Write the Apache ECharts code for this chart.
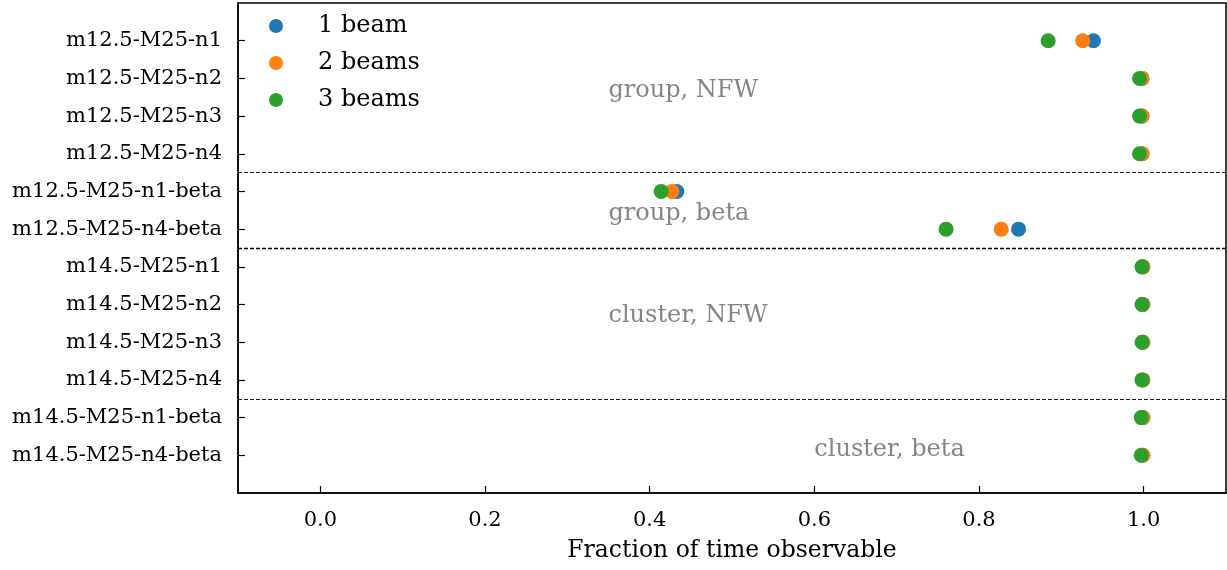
<!DOCTYPE html>
<html>
<head>
<meta charset="utf-8">
<script src="https://cdn.jsdelivr.net/npm/echarts@6/dist/echarts.min.js"></script>
<style>
  html, body { margin: 0; padding: 0; background: #fff; }
  #chart { width: 1227px; height: 570px; }
</style>
</head>
<body>
<div id="chart"></div>
<script>
// Model runs, listed top to bottom
const models = [
  'm12.5-M25-n1', 'm12.5-M25-n2', 'm12.5-M25-n3', 'm12.5-M25-n4',
  'm12.5-M25-n1-beta', 'm12.5-M25-n4-beta',
  'm14.5-M25-n1', 'm14.5-M25-n2', 'm14.5-M25-n3', 'm14.5-M25-n4',
  'm14.5-M25-n1-beta', 'm14.5-M25-n4-beta'
];

// Fraction of time observable per model
const oneBeam    = [0.939, 0.998, 0.998, 0.998, 0.433, 0.848, 0.999, 0.999, 0.999, 0.999, 0.999, 0.999];
const twoBeams   = [0.926, 0.998, 0.998, 0.998, 0.427, 0.827, 0.999, 0.999, 0.999, 0.999, 0.999, 0.999];
const threeBeams = [0.884, 0.995, 0.995, 0.995, 0.414, 0.760, 0.998, 0.998, 0.998, 0.998, 0.997, 0.997];

const seriesNames = ['1 beam', '2 beams', '3 beams'];
const xTicks = [0.0, 0.2, 0.4, 0.6, 0.8, 1.0];

// Group separators (between model indices)
const separators = [
  { y: 3.5, width: 0.9 },
  { y: 5.5, width: 1.4 },
  { y: 9.5, width: 0.9 }
];

// Group annotations: [x, y, text]
const annotations = [
  [0.35, 1.33, 'group, NFW'],
  [0.35, 4.6, 'group, beta'],
  [0.35, 7.3, 'cluster, NFW'],
  [0.60, 10.85, 'cluster, beta']
];

const colors = ['#1f77b4', '#ff7f0e', '#2ca02c'];
const serif = 'DejaVu Serif';
const tickFs = 21;
const textFs = 24;

const toPoints = vals => vals.map((v, i) => [v, i]);

const chart = echarts.init(document.getElementById('chart'), null, { renderer: 'canvas' });

const scatterSeries = [oneBeam, twoBeams, threeBeams].map((vals, k) => ({
  name: seriesNames[k],
  type: 'scatter',
  data: toPoints(vals),
  symbol: 'circle',
  symbolSize: 15,
  itemStyle: { color: colors[k], opacity: 1 },
  z: 3 + k,
  emphasis: { disabled: true }
}));

// separators drawn on the first series
scatterSeries[0].markLine = {
  silent: true,
  symbol: 'none',
  label: { show: false },
  data: separators.map(s => ({
    yAxis: s.y,
    lineStyle: { color: '#000', type: [4, 2], width: s.width }
  }))
};

const annotationSeries = {
  type: 'scatter',
  silent: true,
  symbolSize: 0,
  data: annotations.map(a => ({ value: [a[0], a[1]], name: a[2] })),
  label: {
    show: true,
    position: 'right',
    distance: 0,
    formatter: p => p.name,
    fontFamily: serif,
    fontSize: textFs,
    color: '#666666'
  },
  z: 2
};

chart.setOption({
  animation: false,
  color: colors,
  grid: {
    left: 238, right: 1, top: 3, bottom: 77,
    show: true, borderColor: '#000', borderWidth: 1.5, backgroundColor: 'transparent'
  },
  legend: {
    data: seriesNames,
    left: 264, top: 8,
    orient: 'vertical',
    icon: 'circle',
    itemWidth: 14, itemHeight: 14,
    itemGap: 11,
    textStyle: {
      fontFamily: serif, fontSize: textFs, color: '#000',
      lineHeight: 26, padding: [0, 0, 0, 30]
    }
  },
  xAxis: {
    type: 'value',
    min: -0.1, max: 1.1,
    name: 'Fraction of time observable',
    nameLocation: 'middle',
    nameGap: 46,
    nameTextStyle: { fontFamily: serif, fontSize: 23.5, color: '#000' },
    splitLine: { show: false },
    axisLine: { show: true, onZero: false, lineStyle: { color: '#000', width: 1.5 } },
    axisTick: { show: true, inside: true, length: 7, customValues: xTicks, lineStyle: { color: '#000', width: 1.2 } },
    axisLabel: {
      customValues: xTicks, margin: 17,
      formatter: v => v.toFixed(1),
      fontFamily: serif, fontSize: tickFs, color: '#000'
    }
  },
  yAxis: {
    type: 'value',
    inverse: true,
    min: -1, max: 12,
    splitLine: { show: false },
    axisLine: { show: true, onZero: false, lineStyle: { color: '#000', width: 1.5 } },
    axisTick: { show: true, inside: true, length: 7, customValues: models.map((_, i) => i), lineStyle: { color: '#000', width: 1.2 } },
    axisLabel: {
      customValues: models.map((_, i) => i), margin: 16,
      formatter: v => models[Math.round(v)] || '',
      fontFamily: serif, fontSize: tickFs, color: '#000',
      padding: [3, 0, 0, 0]
    }
  },
  series: [...scatterSeries, annotationSeries]
});
</script>
</body>
</html>
